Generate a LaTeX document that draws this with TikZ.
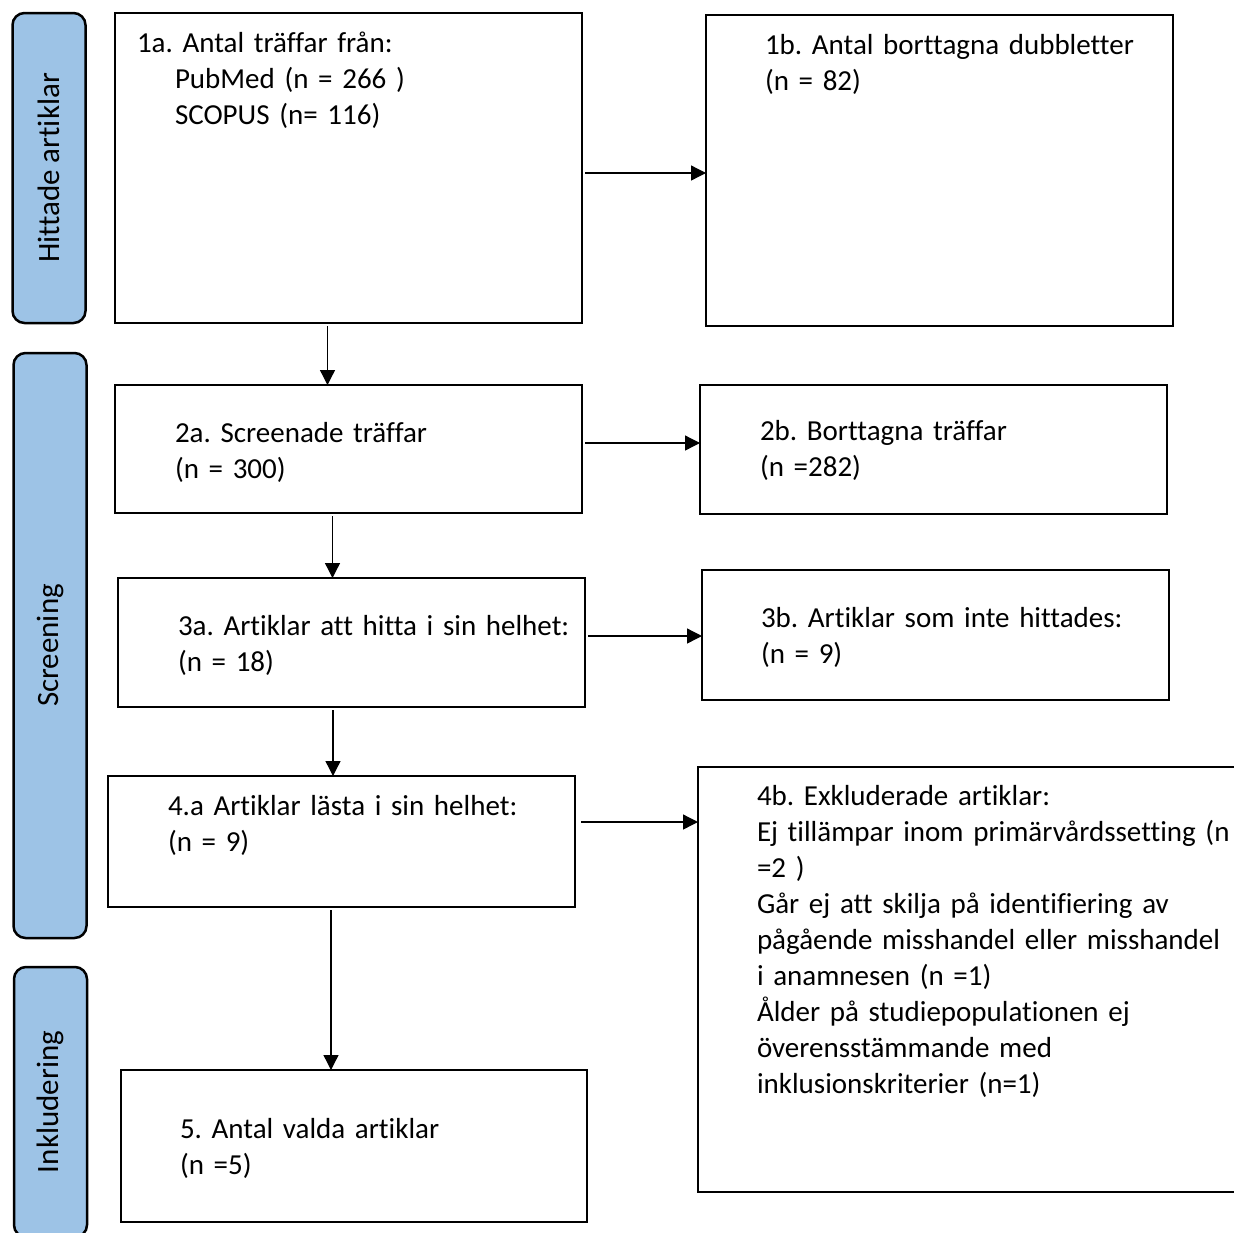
\documentclass[tikz,border=0pt]{standalone}
\usepackage{fontspec}
\setmainfont{Carlito}[Ligatures={NoCommon}]
\usepackage{tikz}
\usetikzlibrary{positioning, arrows.meta}

\definecolor{phaseblue}{RGB}{157,195,230}
\newcommand{\boxfont}{\fontsize{29pt}{36pt}\selectfont\frenchspacing}
\newcommand{\phasefont}{\fontsize{31pt}{37pt}\selectfont}

\begin{document}
\begin{tikzpicture}[x=1pt, y=-1pt,
   main node/.style={draw, line width=2.7pt, outer sep=0pt, inner sep=0pt, align=left, text width=467pt, font=\boxfont, execute at begin node={\leftskip=#1pt\rightskip=0pt plus 1fil}},
   main node/.default=60,
   phase node/.style={draw, fill=phaseblue, line width=2.5pt, rounded corners=12pt, rotate=90, minimum height=73pt, font=\phasefont},
   flow line/.style={-{Triangle[length=15pt, width=15pt]}, line width=1.3pt, shorten <=3pt}]
   \useasboundingbox (0,0) rectangle (1234,1232);
   \clip (0,0) rectangle (1234,1232);

   % faser
   \node[phase node, minimum width=310pt] (hittade) at (49,168) {Hittade artiklar};
   \node[phase node, minimum width=585pt] (screening) at (50,645.5) {Screening};
   \node[phase node, minimum width=270pt] (inkludering) at (50.5,1102) {Inkludering};

   % rutor
   \node[main node=22, text height=39pt, text depth=271pt, anchor=north west] (1a) at (115,13)
      {1a. Antal träffar från:\\ \hspace*{38pt}PubMed (n = 266 )\\ \hspace*{38pt}SCOPUS (n= 116)};
   \node[main node=59, text height=39pt, text depth=272pt, right=124pt of 1a.north east, anchor=north west, yshift=-2pt] (1b)
      {1b. Antal borttagna dubbletter\\(n = 82)};
   \node[main node, text height=57pt, text depth=71pt, below=62pt of 1a.south west, anchor=north west] (2a)
      {2a. Screenade träffar\\(n = 300)};
   \node[main node, text height=55pt, text depth=74pt, right=118pt of 2a.north east, anchor=north west] (2b)
      {2b. Borttagna träffar\\(n =282)};
   \node[main node, text height=57pt, text depth=72pt, below=65pt of 2a.south west, anchor=north west, xshift=3pt] (3a)
      {3a. Artiklar att hitta i sin helhet:\\(n = 18)};
   \node[main node=59, text height=57pt, text depth=73pt, right=117pt of 3a.north east, anchor=north west, yshift=8pt] (3b)
      {3b. Artiklar som inte hittades:\\(n = 9)};
   \node[main node, text height=39pt, text depth=92pt, below=69pt of 3a.south west, anchor=north west, xshift=-10pt] (4a)
      {4.a Artiklar lästa i sin helhet:\\(n = 9)};
   \node[main node=59, text width=588pt, text height=38pt, text depth=387pt, right=123pt of 4a.north east, anchor=north west, yshift=9pt] (4b)
      {4b. Exkluderade artiklar:\\Ej tillämpar inom primärvårdssetting (n\\=2 )\\Går ej att skilja på identifiering av\\pågående misshandel eller misshandel\\i anamnesen (n =1)\\Ålder på studiepopulationen ej\\överensstämmande med\\inklusionskriterier (n=1)};
   \node[main node=59, text width=466pt, text height=68pt, text depth=84pt, below=163pt of 4a.south west, anchor=north west, xshift=13pt] (5)
      {5. Antal valda artiklar\\(n =5)};

   % pilar
   \draw[flow line] ([yshift=-5pt]1a.east) -- ([yshift=-5pt]1a.east -| 1b.west);
   \draw[flow line] ([xshift=-21pt]1a.south) -- ([xshift=-21pt]1a.south |- 2a.north);
   \draw[flow line] ([yshift=6pt]2a.east) -- ([yshift=6pt]2a.east -| 2b.west);
   \draw[flow line] ([xshift=-16pt]2a.south) -- ([xshift=-16pt]2a.south |- 3a.north);
   \draw[flow line] ([yshift=6.5pt]3a.east) -- ([yshift=6.5pt]3a.east -| 3b.west);
   \draw[flow line] ([xshift=-18.5pt]3a.south) -- ([xshift=-18.5pt]3a.south |- 4a.north);
   \draw[flow line, shorten <=6pt] ([yshift=19.5pt]4a.east) -- ([yshift=19.5pt]4a.east -| 4b.west);
   \draw[flow line] ([xshift=-10.5pt]4a.south) -- ([xshift=-10.5pt]4a.south |- 5.north);
\end{tikzpicture}
\end{document}
